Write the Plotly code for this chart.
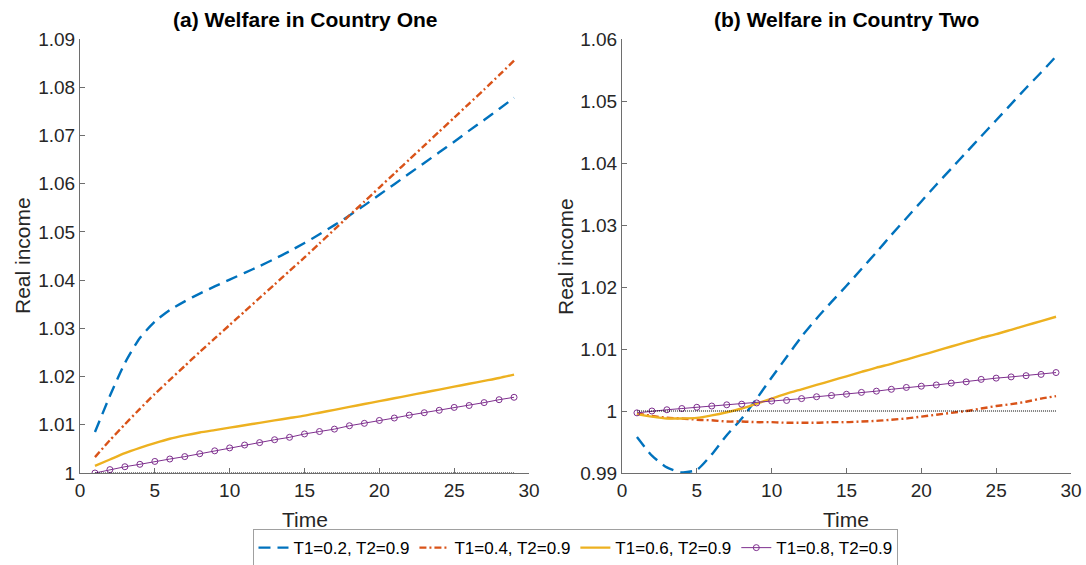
import plotly.graph_objects as go

# Time periods
time = list(range(1, 30))

# Country One real income paths
c1_t02 = [1.0085, 1.0160, 1.0228, 1.0280, 1.0314, 1.0338, 1.0356, 1.0372, 1.0387, 1.0401,
          1.0415, 1.0429, 1.0444, 1.0460, 1.0477, 1.0495, 1.0514, 1.0534, 1.0555, 1.0577,
          1.0599, 1.0621, 1.0643, 1.0665, 1.0687, 1.0710, 1.0732, 1.0755, 1.0778]
c1_t04 = [1.0033, 1.0068, 1.0101, 1.0133, 1.0164, 1.0193, 1.0222, 1.0251, 1.0279, 1.0307,
          1.0335, 1.0363, 1.0391, 1.0419, 1.0447, 1.0476, 1.0505, 1.0534, 1.0563, 1.0592,
          1.0621, 1.0650, 1.0679, 1.0708, 1.0737, 1.0766, 1.0795, 1.0825, 1.0855]
c1_t06 = [1.0015, 1.0028, 1.0041, 1.0052, 1.0062, 1.0071, 1.0078, 1.0084, 1.0089, 1.0094,
          1.0099, 1.0104, 1.0109, 1.0114, 1.0119, 1.0125, 1.0131, 1.0137, 1.0143, 1.0149,
          1.0155, 1.0161, 1.0167, 1.0173, 1.0179, 1.0185, 1.0191, 1.0197, 1.0204]
c1_t08 = [1.0000, 1.0007, 1.0013, 1.0018, 1.0024, 1.0029, 1.0034, 1.0040, 1.0046, 1.0052,
          1.0058, 1.0063, 1.0069, 1.0074, 1.0081, 1.0086, 1.0091, 1.0098, 1.0103, 1.0109,
          1.0114, 1.0120, 1.0125, 1.0130, 1.0136, 1.0140, 1.0146, 1.0152, 1.0157]

# Country Two real income paths
c2_t02 = [0.9958, 0.9928, 0.9909, 0.9901, 0.9905, 0.9930, 0.9961, 0.9988, 1.0020, 1.0054,
          1.0087, 1.0120, 1.0149, 1.0176, 1.0202, 1.0229, 1.0256, 1.0284, 1.0311, 1.0338,
          1.0365, 1.0391, 1.0417, 1.0443, 1.0469, 1.0495, 1.0521, 1.0546, 1.0572]
c2_t04 = [0.9996, 0.9992, 0.9989, 0.9988, 0.9986, 0.9985, 0.9983, 0.9983, 0.9982, 0.9982,
          0.9981, 0.9981, 0.9981, 0.9982, 0.9982, 0.9983, 0.9984, 0.9986, 0.9988, 0.9991,
          0.9994, 0.9997, 1.0000, 1.0004, 1.0008, 1.0011, 1.0015, 1.0020, 1.0024]
c2_t06 = [0.9995, 0.9991, 0.9988, 0.9988, 0.9989, 0.9993, 0.9998, 1.0004, 1.0012, 1.0020,
          1.0028, 1.0035, 1.0042, 1.0049, 1.0056, 1.0063, 1.0070, 1.0076, 1.0083, 1.0090,
          1.0097, 1.0104, 1.0111, 1.0118, 1.0124, 1.0131, 1.0138, 1.0145, 1.0152]
c2_t08 = [0.9997, 1.0000, 1.0002, 1.0004, 1.0006, 1.0008, 1.0010, 1.0011, 1.0013, 1.0016,
          1.0017, 1.0020, 1.0023, 1.0025, 1.0027, 1.0030, 1.0032, 1.0035, 1.0038, 1.0040,
          1.0042, 1.0045, 1.0047, 1.0051, 1.0053, 1.0055, 1.0057, 1.0059, 1.0062]

baseline = [1.0] * len(time)

series_names = ["T1=0.2, T2=0.9", "T1=0.4, T2=0.9", "T1=0.6, T2=0.9", "T1=0.8, T2=0.9"]

x_ticks = [0, 5, 10, 15, 20, 25, 30]
y1_ticks = [1.00, 1.01, 1.02, 1.03, 1.04, 1.05, 1.06, 1.07, 1.08, 1.09]
y1_labels = ["1", "1.01", "1.02", "1.03", "1.04", "1.05", "1.06", "1.07", "1.08", "1.09"]
y2_ticks = [0.99, 1.00, 1.01, 1.02, 1.03, 1.04, 1.05, 1.06]
y2_labels = ["0.99", "1", "1.01", "1.02", "1.03", "1.04", "1.05", "1.06"]

BLUE, RED, YELLOW, PURPLE = "#0072BD", "#D95319", "#EDB120", "#7E2F8E"
FONT = "Liberation Sans, Arial, sans-serif"

styles = [
    dict(line=dict(color=BLUE, width=2.4, dash="12px,7px", shape="spline", smoothing=0.6),
         mode="lines"),
    dict(line=dict(color=RED, width=2.4, dash="7px,3px,2px,3px", shape="spline", smoothing=0.6),
         mode="lines"),
    dict(line=dict(color=YELLOW, width=2.4, shape="spline", smoothing=0.6), mode="lines"),
    dict(line=dict(color=PURPLE, width=1), mode="lines+markers",
         marker=dict(symbol="circle-open", size=6, color=PURPLE, line=dict(width=1))),
]

fig = go.Figure()

for i, ys in enumerate([c1_t02, c1_t04, c1_t06, c1_t08]):
    fig.add_trace(go.Scatter(x=time, y=ys, name=series_names[i], xaxis="x", yaxis="y",
                             legendgroup=str(i), showlegend=True, **styles[i]))
fig.add_trace(go.Scatter(x=time, y=baseline, xaxis="x", yaxis="y", mode="lines",
                         line=dict(color="black", width=1, dash="1px,1px"), showlegend=False))

for i, ys in enumerate([c2_t02, c2_t04, c2_t06, c2_t08]):
    fig.add_trace(go.Scatter(x=time, y=ys, name=series_names[i], xaxis="x2", yaxis="y2",
                             legendgroup=str(i), showlegend=False, **styles[i]))
fig.add_trace(go.Scatter(x=time, y=baseline, xaxis="x2", yaxis="y2", mode="lines",
                         line=dict(color="black", width=1, dash="1px,1px"), showlegend=False))

axis_common = dict(
    showgrid=False, zeroline=False, showline=True, linecolor="#6e6e6e", linewidth=1,
    ticks="inside", ticklen=5, tickcolor="#6e6e6e", automargin=False,
    tickfont=dict(family=FONT, size=19, color="#262626"),
)

left_dom = [0.0, 0.4531]
right_dom = [0.5469, 1.0]

fig.update_layout(
    width=1086, height=565,
    margin=dict(l=80, r=15, t=39, b=92, autoexpand=False),
    paper_bgcolor="white", plot_bgcolor="white",
    font=dict(family=FONT, color="#262626"),
    xaxis=dict(domain=left_dom, range=[0, 30], tickvals=x_ticks, anchor="y", **axis_common),
    yaxis=dict(domain=[0, 1], range=[1.0, 1.09], tickvals=y1_ticks, ticktext=y1_labels,
               anchor="x", **axis_common),
    xaxis2=dict(domain=right_dom, range=[0, 30], tickvals=x_ticks, anchor="y2", **axis_common),
    yaxis2=dict(domain=[0, 1], range=[0.99, 1.06], tickvals=y2_ticks, ticktext=y2_labels,
                anchor="x2", **axis_common),
    legend=dict(orientation="h", x=0.5005, y=-0.173, xanchor="center", yanchor="middle",
                bordercolor="#a0a0a0", borderwidth=1, bgcolor="white",
                font=dict(family=FONT, size=17, color="black"),
                itemwidth=30, tracegroupgap=0),
    showlegend=True,
)

def mid(d):
    return (d[0] + d[1]) / 2

annotations = [
    dict(text="<b>(a) Welfare in Country One</b>", x=mid(left_dom), y=1.044),
    dict(text="<b>(b) Welfare in Country Two</b>", x=mid(right_dom), y=1.044),
]
for a in annotations:
    a.update(xref="paper", yref="paper", showarrow=False, xanchor="center", yanchor="middle",
             font=dict(family=FONT, size=21, color="black"))

for d in (left_dom, right_dom):
    annotations.append(dict(text="Time", x=mid(d), y=-0.108, xref="paper", yref="paper",
                            showarrow=False, xanchor="center", yanchor="middle",
                            font=dict(family=FONT, size=21, color="#262626")))

for xpos in (-0.0585, 0.4894):
    annotations.append(dict(text="Real income", x=xpos, y=0.5, xref="paper", yref="paper",
                            showarrow=False, xanchor="center", yanchor="middle", textangle=-90,
                            font=dict(family=FONT, size=21, color="#262626")))

fig.update_layout(annotations=annotations)

fig.write_html("out.html")
